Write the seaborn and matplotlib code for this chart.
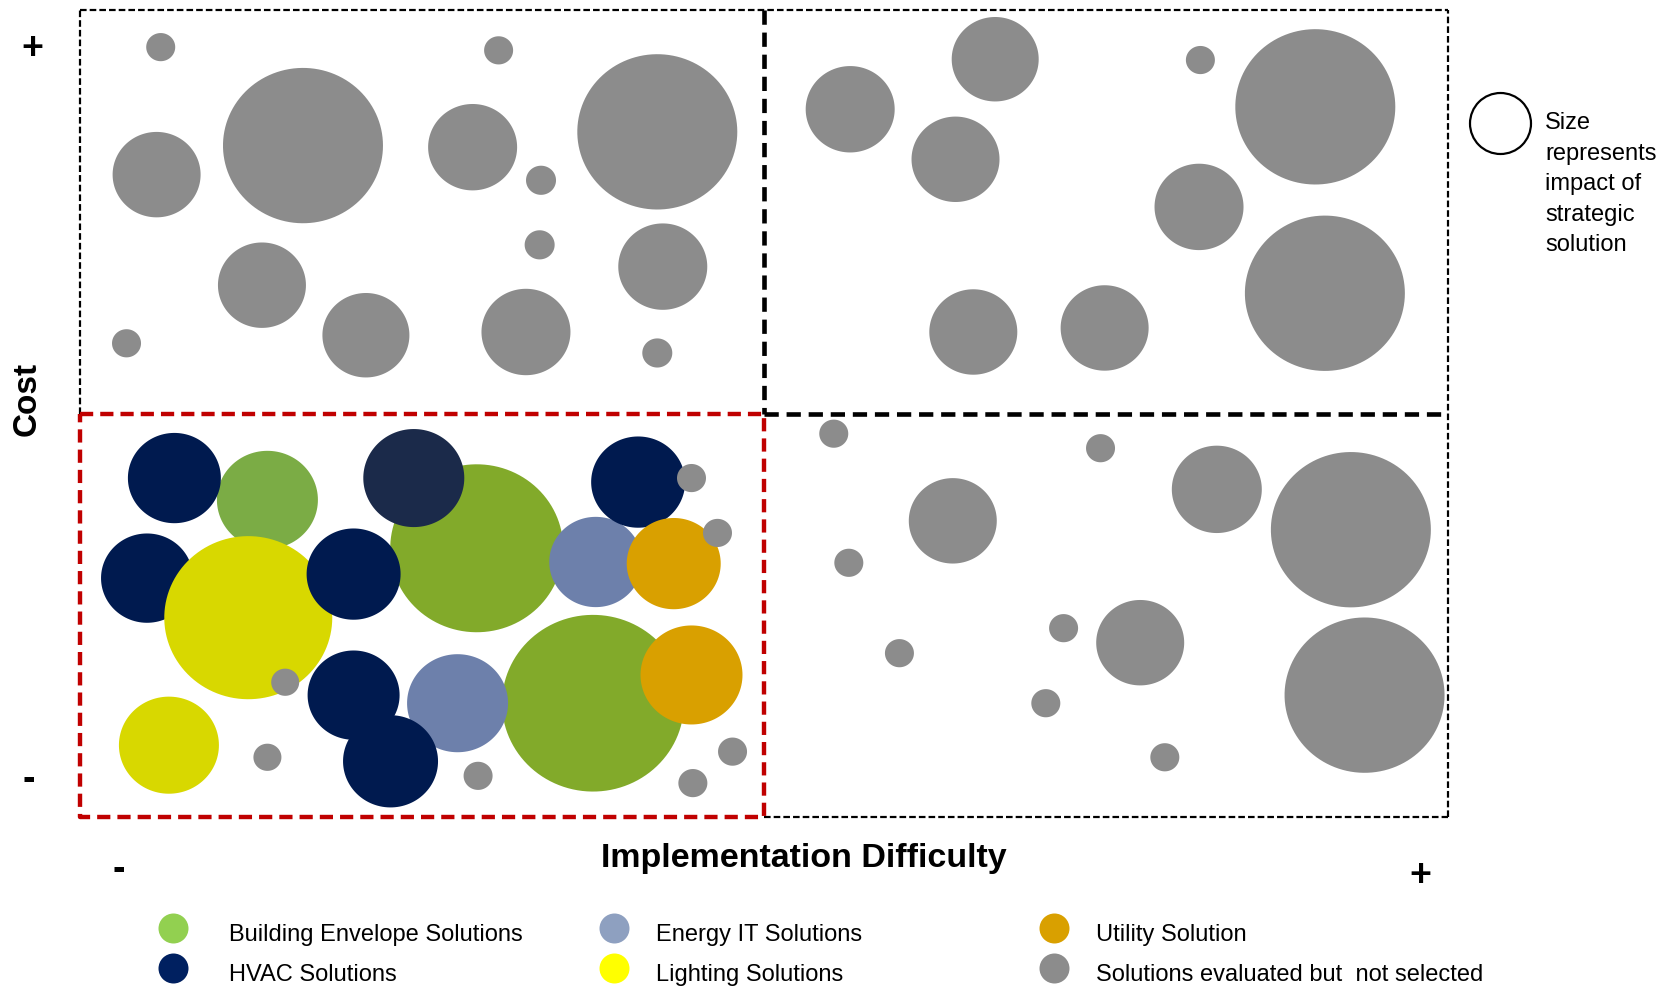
import numpy as np
import pandas as pd
import matplotlib
matplotlib.use("Agg")
import matplotlib.pyplot as plt
import seaborn as sns
from matplotlib.path import Path
from matplotlib.markers import MarkerStyle

# ---------------- data ----------------
# x: implementation difficulty (0 = low, 10 = high), y: cost (0 = low, 10 = high)
difficulty = [0.59, 0.56, 1.63, 2.87, 3.06, 1.33, 2.09, 0.34, 3.37, 3.36, 3.26, 4.22, 4.26, 4.22,
              5.63, 6.69, 6.40, 6.53, 8.19, 9.03, 8.18, 9.10, 7.49,
              5.51, 6.38, 5.62, 5.99, 7.46, 8.31, 9.29, 7.19, 7.75, 7.06, 7.93, 9.39,
              2.90, 2.44, 1.37, 0.69, 0.49, 1.23, 2.00, 1.50, 3.75, 2.00, 2.76, 2.27,
              0.65, 1.37, 2.91, 3.77, 4.08, 4.47, 4.34, 4.66, 4.47, 4.77, 4.48]
cost = [9.54, 7.96, 8.32, 8.30, 9.50, 6.59, 5.97, 5.87, 7.89, 7.09, 6.01, 8.49, 6.82, 5.75,
        8.77, 9.39, 8.15, 6.01, 9.38, 8.80, 7.56, 6.49, 6.06,
        4.75, 3.67, 3.15, 2.03, 4.57, 4.06, 3.56, 2.34, 2.16, 1.41, 0.74, 1.51,
        3.33, 4.20, 3.93, 4.20, 2.96, 2.47, 3.01, 1.67, 1.41, 1.51, 1.41, 0.69,
        0.89, 0.74, 0.51, 3.16, 4.15, 4.20, 3.14, 3.52, 1.76, 0.81, 0.42]
impact = [2.9, 8.8, 16.0, 8.9, 2.9, 8.8, 8.7, 2.9, 3.0, 3.0, 8.9, 16.0, 8.9, 3.0,
          8.9, 8.7, 8.8, 8.8, 2.9, 16.0, 8.9, 16.0, 8.8,
          2.9, 8.8, 2.9, 2.9, 2.9, 9.0, 16.0, 2.9, 8.8, 2.9, 2.9, 16.0,
          17.3, 10.1, 10.1, 9.3, 9.2, 16.8, 9.4, 2.8, 18.2, 9.2, 10.1, 9.5,
          10.0, 2.8, 2.9, 9.3, 9.4, 2.9, 9.4, 2.9, 10.2, 2.9, 2.9]
series = (["not_selected"] * 35 +
          ["envelope", "hvac_b", "envelope_b", "hvac", "hvac", "lighting", "hvac",
           "not_selected", "envelope", "hvac", "energy_it", "hvac",
           "lighting", "not_selected", "not_selected", "energy_it", "hvac",
           "not_selected", "utility", "not_selected", "utility", "not_selected",
           "not_selected"])

legend_labels = ["Building Envelope Solutions", "HVAC Solutions", "Energy IT Solutions",
                 "Lighting Solutions", "Utility Solution", "Solutions evaluated but  not selected"]
size_note = ["Size", "represents", "impact of", "strategic", "solution"]

# ---------------- style ----------------
palette = {
    "envelope": "#82AA2A",
    "envelope_b": "#7BAC45",
    "hvac": "#001A4F",
    "hvac_b": "#1B2A4A",
    "energy_it": "#6D80AB",
    "lighting": "#D8D800",
    "utility": "#D9A000",
    "not_selected": "#8C8C8C",
}
legend_colors = ["#92D050", "#002060", "#8EA0C0", "#FFFF00", "#D9A000", "#8C8C8C"]

sns.set_theme(style="white")
plt.rcParams["font.family"] = ["Liberation Sans", "DejaVu Sans"]
plt.rcParams["text.color"] = "black"

W, H, DPI = 1681, 991, 100
PX = 72.0 / DPI  # points per pixel

fig = plt.figure(figsize=(W / DPI, H / DPI), dpi=DPI)
fig.patch.set_facecolor("white")
ax = fig.add_axes([80 / W, 1 - 817 / H, 1368 / W, 807 / H])
ax.set_xlim(0, 10)
ax.set_ylim(0, 10)
ax.set_axis_off()

df = pd.DataFrame({"difficulty": difficulty, "cost": cost,
                   "impact": impact, "series": series})

# slightly wide ellipse marker (as in the original)
t = np.linspace(0, 2 * np.pi, 120)
ell = Path(np.column_stack([np.cos(t) * 1.03, np.sin(t)]), closed=True)
marker = MarkerStyle(ell)

sizes = (np.array(impact) * 10 * PX) ** 2
sns.scatterplot(data=df, x="difficulty", y="cost", hue="series", palette=palette,
                s=sizes, marker=marker, linewidth=0, edgecolor="none",
                legend=False, ax=ax, zorder=2)

# ---------------- quadrant frames ----------------
thin = dict(color="black", lw=2.2 * PX, dashes=(3, 1.4), clip_on=False, zorder=3,
            solid_capstyle="butt", dash_capstyle="butt")
ax.plot([0, 10], [10, 10], **thin)
ax.plot([0, 0], [5, 10], **thin)
ax.plot([10, 10], [0, 10], **thin)
ax.plot([5, 10], [0, 0], **thin)

thick = dict(color="black", lw=4.6 * PX, dashes=(3.1, 1.7), clip_on=False, zorder=4,
             dash_capstyle="butt")
ax.plot([5, 5], [10, 5], **thick)
ax.plot([5, 10], [5, 5], **thick)

red = dict(color="#C00000", lw=4.4 * PX, dashes=(3.0, 1.6), clip_on=False, zorder=5,
           dash_capstyle="butt")
ax.plot([0, 5, 5, 0, 0], [5, 5, 0, 0, 5], **red)

# ---------------- overlay for labels / legends ----------------
ov = fig.add_axes([0, 0, 1, 1], zorder=10)
ov.set_xlim(0, W)
ov.set_ylim(H, 0)
ov.set_axis_off()
ov.patch.set_alpha(0)

ov.text(804, 859, "Implementation Difficulty", fontsize=24.5, fontweight="bold",
        ha="center", va="center", color="black")
ov.text(27, 399, "Cost", fontsize=24, fontweight="bold", rotation=90,
        ha="center", va="center", color="black")
for (sx, sy, sg) in [(32, 49, "+"), (29, 780, "-"), (119, 870, "-"), (1420, 876, "+")]:
    ov.text(sx, sy, sg, fontsize=27, fontweight="bold", ha="center", va="center",
            color="black")

# bottom legend
leg_marker_x = [173, 173, 614, 614, 1054, 1054]
leg_text_x = [229, 229, 656, 656, 1096, 1096]
leg_y = [928, 968, 928, 968, 928, 968]
for lbl, col, mx, tx, my in zip(legend_labels, legend_colors, leg_marker_x, leg_text_x, leg_y):
    ov.scatter([mx], [my], s=(30 * PX) ** 2, color=col, linewidth=0, marker="o")
    ov.text(tx, my + 7, lbl, fontsize=17, ha="left", va="center", color="black")

# size note legend
ov.scatter([1500], [123], s=(61 * PX) ** 2, facecolor="white", edgecolor="black",
           linewidths=2.2 * PX, marker="o")
for k, line in enumerate(size_note):
    ov.text(1545, 123 + 30.6 * k, line, fontsize=17, ha="left", va="center", color="black")

fig.savefig("out.png", dpi=DPI, facecolor="white")
